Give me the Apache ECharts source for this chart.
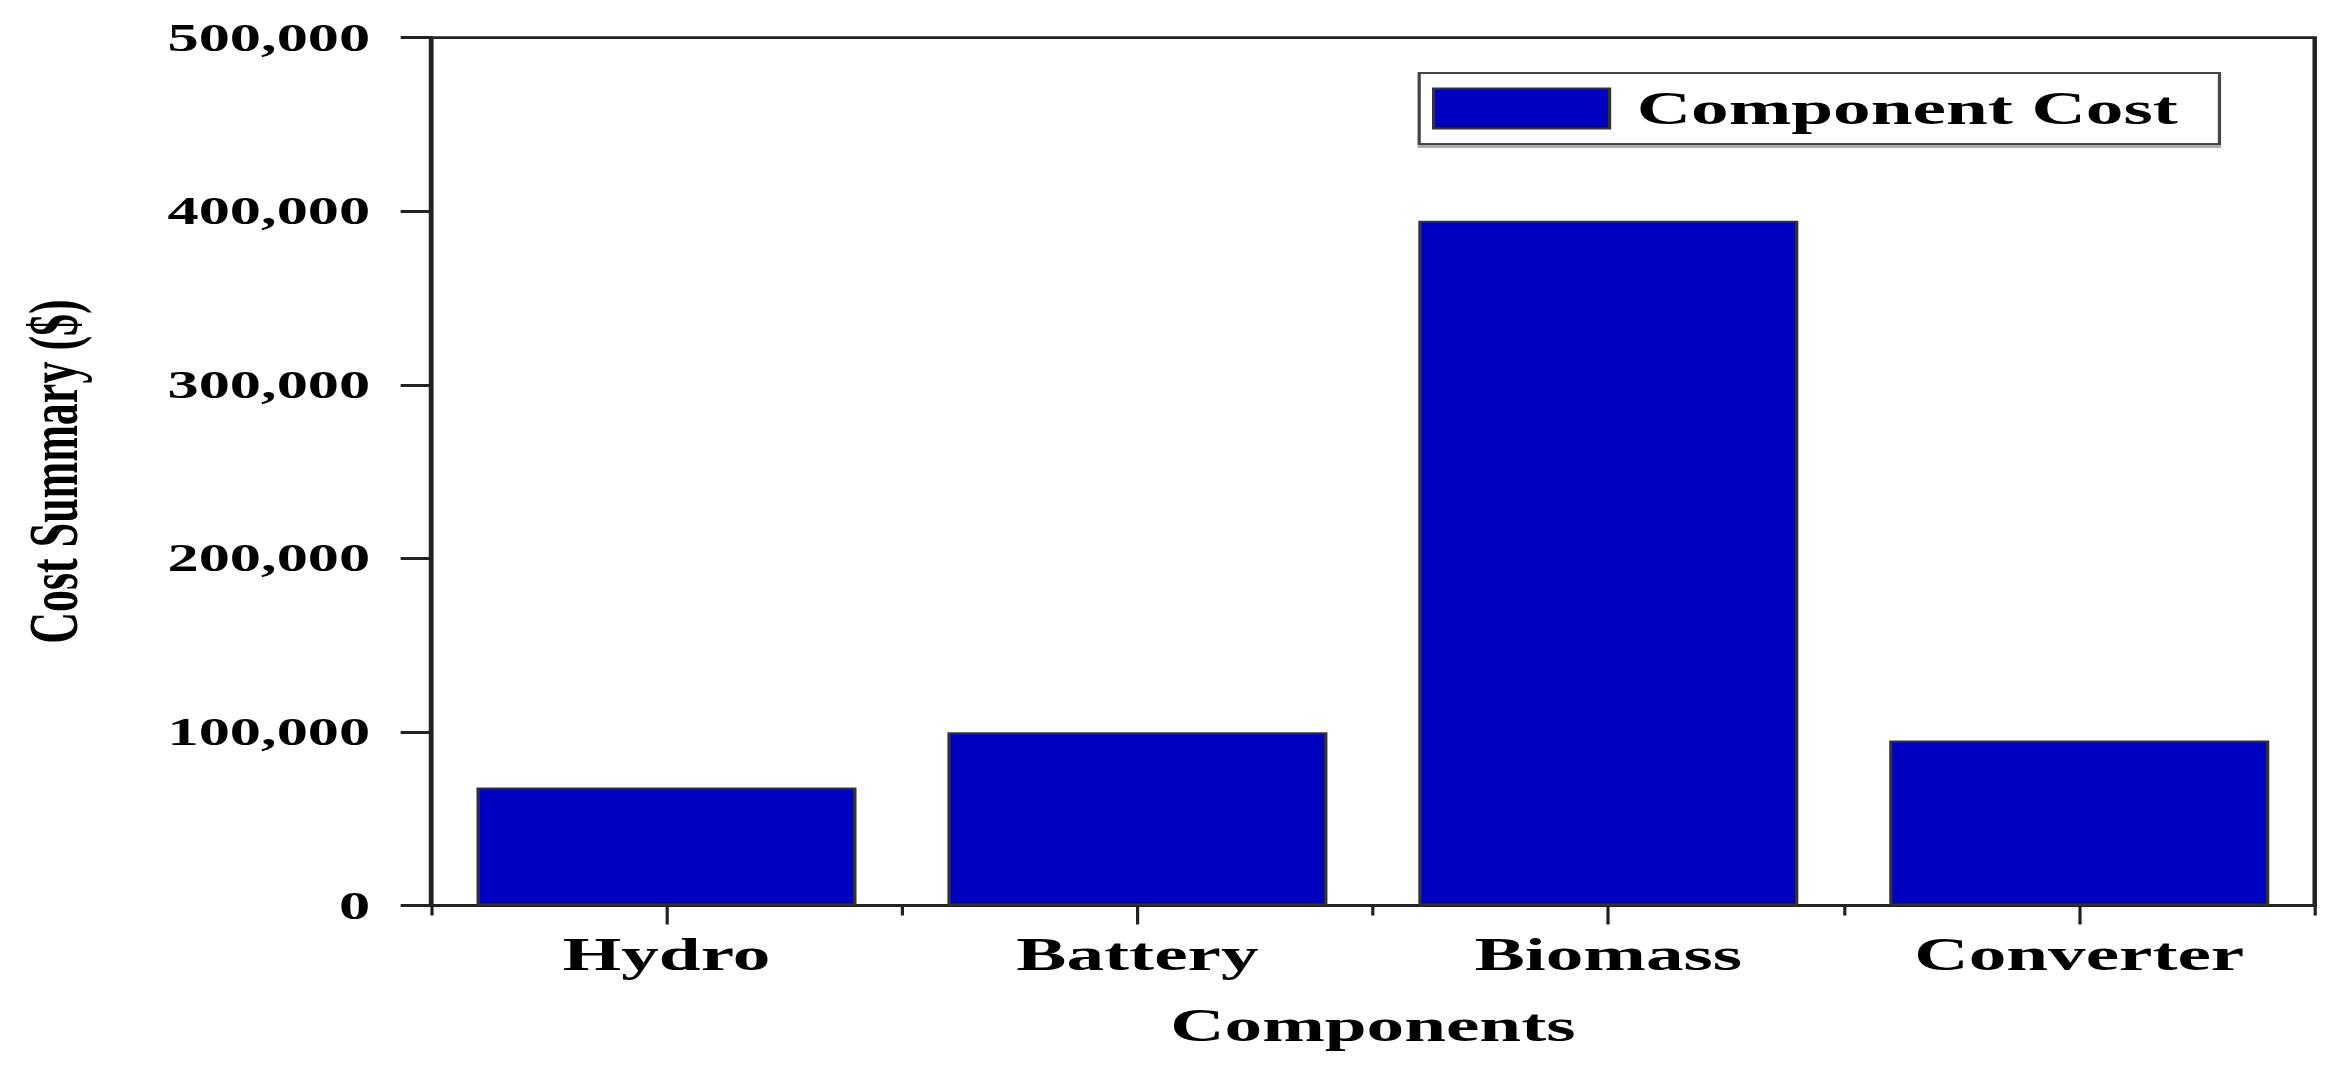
<!DOCTYPE html>
<html>
<head>
<meta charset="utf-8">
<script src="https://cdn.jsdelivr.net/npm/echarts@6/dist/echarts.min.js"></script>
<style>
  html, body { margin: 0; padding: 0; background: #fff; overflow: hidden; }
  /* the original figure is stretched sideways, so the chart is drawn narrow and widened */
  #chart { width: 1457.5px; height: 1081px; transform: scaleX(1.6); transform-origin: 0 0; }
</style>
</head>
<body>
<div id="chart"></div>
<script>
var categories = ['Hydro', 'Battery', 'Biomass', 'Converter']
var componentCost = [68000, 99800, 394500, 95000]
var yTicks = [0, 100000, 200000, 300000, 400000, 500000]

var font = "'Liberation Serif', 'Times New Roman', serif"
var lineColor = '#222'

var myChart = echarts.init(document.getElementById('chart'), null, { renderer: 'svg' })

var option = {
  backgroundColor: '#fff',
  animation: false,
  grid: {
    left: 269.4,
    right: 11.3,
    top: 37.7,
    bottom: 175.5,
    show: true,
    borderColor: lineColor,
    borderWidth: 2.8
  },
  legend: {
    data: ['Component Cost'],
    left: 887,
    top: 73,
    orient: 'horizontal',
    icon: 'rect',
    itemWidth: 110,
    itemHeight: 40,
    padding: [12, 26, 12, 8],
    borderColor: '#444',
    borderWidth: 2,
    backgroundColor: '#fff',
    shadowColor: '#aaa',
    shadowOffsetY: 3,
    shadowBlur: 0,
    textStyle: {
      fontFamily: font,
      fontWeight: 'bold',
      fontSize: 47,
      color: '#000',
      padding: [0, 0, 0, 12]
    }
  },
  xAxis: [
    {
      type: 'category',
      data: categories,
      position: 'bottom',
      name: 'Components',
      nameLocation: 'middle',
      nameGap: 96,
      nameTextStyle: {
        fontFamily: font,
        fontWeight: 'bold',
        fontSize: 47,
        color: '#000'
      },
      axisLine: { show: true, lineStyle: { color: lineColor, width: 2.8 } },
      axisTick: { show: true, alignWithLabel: true, length: 19, lineStyle: { color: lineColor, width: 2 } },
      axisLabel: {
        fontFamily: font,
        fontWeight: 'bold',
        fontSize: 47,
        color: '#000',
        margin: 25
      },
      splitLine: { show: false }
    },
    {
      // short ticks on the category boundaries
      type: 'category',
      data: categories,
      position: 'bottom',
      axisLine: { show: false },
      axisTick: { show: true, alignWithLabel: false, length: 10, lineStyle: { color: lineColor, width: 2 } },
      axisLabel: { show: false },
      splitLine: { show: false }
    }
  ],
  yAxis: {
    type: 'value',
    min: yTicks[0],
    max: yTicks[yTicks.length - 1],
    interval: 100000,
    name: 'Cost Summary ($)',
    nameLocation: 'middle',
    nameGap: 214,
    nameRotate: 90,
    nameTextStyle: {
      fontFamily: font,
      fontWeight: 'bold',
      fontSize: 44,
      color: '#000'
    },
    axisLine: { show: true, lineStyle: { color: lineColor, width: 2.8 } },
    axisTick: { show: true, length: 19, lineStyle: { color: lineColor, width: 3 } },
    axisLabel: {
      fontFamily: font,
      fontWeight: 'bold',
      fontSize: 39,
      color: '#000',
      margin: 38,
      formatter: function (v) {
        return v.toLocaleString('en-US')
      }
    },
    splitLine: { show: false }
  },
  series: [
    {
      name: 'Component Cost',
      type: 'bar',
      data: componentCost,
      barCategoryGap: '19.3%',
      itemStyle: {
        color: '#0000C0',
        borderColor: '#333',
        borderWidth: 2
      }
    }
  ]
}

myChart.setOption(option)
</script>
</body>
</html>
